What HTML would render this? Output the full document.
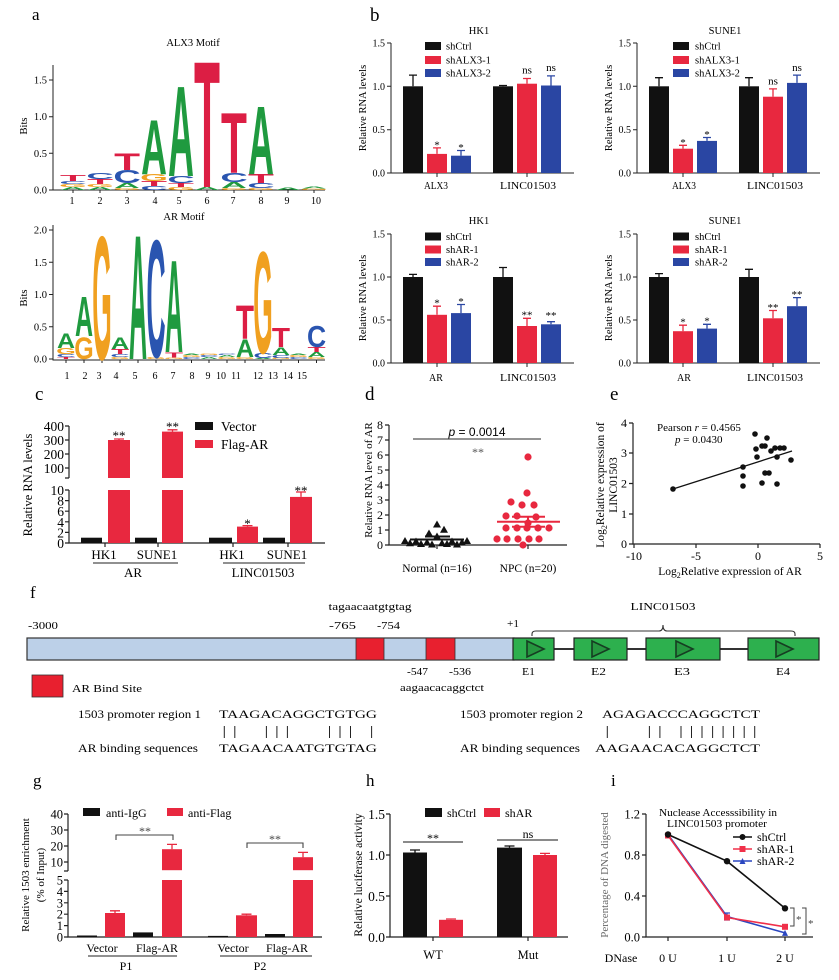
<!DOCTYPE html>
<html><head><meta charset="utf-8"><style>
html,body{margin:0;padding:0;background:#fff;}
svg{display:block;}
text{font-family:"Liberation Serif",serif;}
.lg text{font-family:"Liberation Sans",sans-serif;font-weight:bold;font-size:100px;text-anchor:middle;}
.sans{font-family:"Liberation Sans",sans-serif;}
</style></head><body>
<svg width="839" height="980" viewBox="0 0 839 980" xmlns="http://www.w3.org/2000/svg">
<rect width="839" height="980" fill="#fff"/>

<!-- ============ PANEL A ============ -->
<text x="32" y="20" font-size="17">a</text>
<text x="193" y="46" font-size="10.5" text-anchor="middle">ALX3 Motif</text>
<text transform="translate(27,126) rotate(-90)" font-size="10.5" text-anchor="middle">Bits</text>
<path d="M53,65V190H325" stroke="#222" fill="none"/>
<path d="M49,190H53M49,153.3H53M49,116.7H53M49,80H53M73,190V193M100,190V193M127,190V193M154,190V193M181,190V193M207,190V193M234,190V193M261,190V193M288,190V193M314,190V193" stroke="#222"/>
<g font-size="10.5" text-anchor="end"><text x="47" y="193.5">0.0</text><text x="47" y="156.8">0.5</text><text x="47" y="120.2">1.0</text><text x="47" y="83.5">1.5</text></g>
<g font-size="10" text-anchor="middle"><text x="72" y="204">1</text><text x="100" y="204">2</text><text x="127" y="204">3</text><text x="155" y="204">4</text><text x="179" y="204">5</text><text x="207" y="204">6</text><text x="233" y="204">7</text><text x="261" y="204">8</text><text x="287" y="204">9</text><text x="316" y="204">10</text></g>
<g class="lg">
<text fill="#1f9a3f" transform="translate(73,190) scale(0.357,0.042)">A</text>
<text fill="#f0a020" transform="translate(73,187) scale(0.357,0.042)">G</text>
<text fill="#2a55b0" transform="translate(73,184) scale(0.379,0.042)">C</text>
<text fill="#dc1e44" transform="translate(73,181) scale(0.424,0.083)">T</text>
<text fill="#1f9a3f" transform="translate(100,190) scale(0.357,0.042)">A</text>
<text fill="#f0a020" transform="translate(100,187) scale(0.357,0.042)">G</text>
<text fill="#dc1e44" transform="translate(100,184) scale(0.424,0.069)">T</text>
<text fill="#2a55b0" transform="translate(100,179) scale(0.379,0.083)">C</text>
<text fill="#f0a020" transform="translate(127,190) scale(0.357,0.028)">G</text>
<text fill="#1f9a3f" transform="translate(127,188) scale(0.357,0.069)">A</text>
<text fill="#2a55b0" transform="translate(127,183) scale(0.379,0.181)">C</text>
<text fill="#dc1e44" transform="translate(127,170) scale(0.424,0.236)">T</text>
<text fill="#2a55b0" transform="translate(154,190) scale(0.379,0.056)">C</text>
<text fill="#dc1e44" transform="translate(154,186) scale(0.424,0.069)">T</text>
<text fill="#f0a020" transform="translate(154,181) scale(0.357,0.097)">G</text>
<text fill="#1f9a3f" transform="translate(154,174) scale(0.357,0.778)">A</text>
<text fill="#f0a020" transform="translate(181,190) scale(0.357,0.042)">G</text>
<text fill="#dc1e44" transform="translate(181,187) scale(0.424,0.056)">T</text>
<text fill="#2a55b0" transform="translate(181,183) scale(0.379,0.097)">C</text>
<text fill="#1f9a3f" transform="translate(181,176) scale(0.357,1.292)">A</text>
<text fill="#1f9a3f" transform="translate(207,190) scale(0.357,0.042)">A</text>
<text fill="#dc1e44" transform="translate(207,187) scale(0.424,1.806)">T</text>
<text fill="#f0a020" transform="translate(234,190) scale(0.357,0.028)">G</text>
<text fill="#1f9a3f" transform="translate(234,188) scale(0.357,0.083)">A</text>
<text fill="#2a55b0" transform="translate(234,182) scale(0.379,0.125)">C</text>
<text fill="#dc1e44" transform="translate(234,173) scale(0.424,0.861)">T</text>
<text fill="#f0a020" transform="translate(261,190) scale(0.357,0.028)">G</text>
<text fill="#2a55b0" transform="translate(261,188) scale(0.379,0.069)">C</text>
<text fill="#dc1e44" transform="translate(261,183) scale(0.424,0.125)">T</text>
<text fill="#1f9a3f" transform="translate(261,174) scale(0.357,0.972)">A</text>
<text fill="#1f9a3f" transform="translate(288,190) scale(0.357,0.035)">A</text>
<text fill="#f0a020" transform="translate(314,190) scale(0.357,0.021)">G</text>
<text fill="#1f9a3f" transform="translate(314,188.5) scale(0.357,0.028)">A</text>
</g>

<text x="184" y="220" font-size="10.5" text-anchor="middle">AR Motif</text>
<text transform="translate(27,298) rotate(-90)" font-size="10.5" text-anchor="middle">Bits</text>
<path d="M53,225V360H325" stroke="#222" fill="none"/>
<path d="M49,359H53M49,326.8H53M49,294.5H53M49,262.3H53M49,230H53M66,360V363M84,360V363M102,360V363M120,360V363M138,360V363M156,360V363M174,360V363M191.5,360V363M209,360V363M227,360V363M245,360V363M263,360V363M281,360V363M298.5,360V363M316.5,360V363" stroke="#222"/>
<g font-size="10.5" text-anchor="end"><text x="47" y="362.5">0.0</text><text x="47" y="330.3">0.5</text><text x="47" y="298">1.0</text><text x="47" y="265.8">1.5</text><text x="47" y="233.5">2.0</text></g>
<g font-size="10" text-anchor="middle"><text x="67" y="379">1</text><text x="85" y="379">2</text><text x="99" y="379">3</text><text x="116" y="379">4</text><text x="135" y="379">5</text><text x="155" y="379">6</text><text x="173" y="379">7</text><text x="192" y="379">8</text><text x="208" y="379">9</text><text x="221" y="379">10</text><text x="236" y="379">11</text><text x="258" y="379">12</text><text x="273" y="379">13</text><text x="288" y="379">14</text><text x="302" y="379">15</text></g>
<g class="lg">
<text fill="#dc1e44" transform="translate(66,359) scale(0.297,0.028)">T</text>
<text fill="#2a55b0" transform="translate(66,357) scale(0.265,0.042)">C</text>
<text fill="#f0a020" transform="translate(66,354) scale(0.25,0.083)">G</text>
<text fill="#1f9a3f" transform="translate(66,348) scale(0.25,0.208)">A</text>
<text fill="#f0a020" transform="translate(84,359) scale(0.25,0.319)">G</text>
<text fill="#1f9a3f" transform="translate(84,336) scale(0.25,0.569)">A</text>
<text fill="#f0a020" transform="translate(102,359) scale(0.25,1.764)">G</text>
<text fill="#f0a020" transform="translate(120,359) scale(0.25,0.028)">G</text>
<text fill="#2a55b0" transform="translate(120,357) scale(0.265,0.042)">C</text>
<text fill="#dc1e44" transform="translate(120,354) scale(0.297,0.069)">T</text>
<text fill="#1f9a3f" transform="translate(120,349) scale(0.25,0.167)">A</text>
<text fill="#1f9a3f" transform="translate(138,359) scale(0.25,1.778)">A</text>
<text fill="#f0a020" transform="translate(156,359) scale(0.25,0.028)">G</text>
<text fill="#2a55b0" transform="translate(156,357) scale(0.265,1.681)">C</text>
<text fill="#f0a020" transform="translate(174,359) scale(0.25,0.021)">G</text>
<text fill="#dc1e44" transform="translate(174,357.5) scale(0.297,0.076)">T</text>
<text fill="#1f9a3f" transform="translate(174,352) scale(0.25,1.319)">A</text>
<text fill="#2a55b0" transform="translate(191.5,359) scale(0.265,0.028)">C</text>
<text fill="#f0a020" transform="translate(191.5,357) scale(0.25,0.028)">G</text>
<text fill="#1f9a3f" transform="translate(191.5,355) scale(0.25,0.021)">A</text>
<text fill="#1f9a3f" transform="translate(209,359) scale(0.25,0.028)">A</text>
<text fill="#2a55b0" transform="translate(209,357) scale(0.265,0.028)">C</text>
<text fill="#f0a020" transform="translate(209,355) scale(0.25,0.021)">G</text>
<text fill="#f0a020" transform="translate(227,359) scale(0.25,0.028)">G</text>
<text fill="#1f9a3f" transform="translate(227,357) scale(0.25,0.028)">A</text>
<text fill="#2a55b0" transform="translate(227,355) scale(0.265,0.021)">C</text>
<text fill="#f0a020" transform="translate(245,359) scale(0.25,0.028)">G</text>
<text fill="#1f9a3f" transform="translate(245,357) scale(0.25,0.25)">A</text>
<text fill="#dc1e44" transform="translate(245,339) scale(0.297,0.486)">T</text>
<text fill="#1f9a3f" transform="translate(263,359) scale(0.25,0.014)">A</text>
<text fill="#2a55b0" transform="translate(263,358) scale(0.265,0.069)">C</text>
<text fill="#f0a020" transform="translate(263,353) scale(0.25,1.458)">G</text>
<text fill="#f0a020" transform="translate(281,359) scale(0.25,0.014)">G</text>
<text fill="#2a55b0" transform="translate(281,358) scale(0.265,0.042)">C</text>
<text fill="#1f9a3f" transform="translate(281,355) scale(0.25,0.111)">A</text>
<text fill="#dc1e44" transform="translate(281,347) scale(0.297,0.278)">T</text>
<text fill="#2a55b0" transform="translate(298.5,359) scale(0.265,0.028)">C</text>
<text fill="#f0a020" transform="translate(298.5,357) scale(0.25,0.028)">G</text>
<text fill="#1f9a3f" transform="translate(298.5,355) scale(0.25,0.021)">A</text>
<text fill="#f0a020" transform="translate(316.5,359) scale(0.25,0.028)">G</text>
<text fill="#1f9a3f" transform="translate(316.5,357) scale(0.25,0.069)">A</text>
<text fill="#dc1e44" transform="translate(316.5,352) scale(0.297,0.069)">T</text>
<text fill="#2a55b0" transform="translate(316.5,347) scale(0.265,0.306)">C</text>
</g>

<!-- ============ PANEL B ============ -->
<text x="370" y="21" font-size="19">b</text>

<!-- HK1 top -->
<text x="479" y="34" font-size="10.5" text-anchor="middle">HK1</text>
<path d="M391,43V173H574" stroke="#222" fill="none"/>
<path d="M387,43H391M387,86.3H391M387,129.7H391M387,173H391M437,173V177M527,173V177" stroke="#222"/>
<g font-size="10" text-anchor="end"><text x="385" y="46.5">1.5</text><text x="385" y="89.8">1.0</text><text x="385" y="133.2">0.5</text><text x="385" y="176.5">0.0</text></g>
<text transform="translate(366,108) rotate(-90)" font-size="10.5" text-anchor="middle">Relative RNA levels</text>
<rect x="425" y="42" width="16" height="8" fill="#111"/><text x="446" y="49.5" font-size="10.5">shCtrl</text>
<rect x="425" y="56" width="16" height="8" fill="#e8283f"/><text x="446" y="63.5" font-size="10.5">shALX3-1</text>
<rect x="425" y="69" width="16" height="8" fill="#2a46a3"/><text x="446" y="76.5" font-size="10.5">shALX3-2</text>
<rect x="403" y="86.3" width="20" height="86.7" fill="#111"/>
<rect x="427" y="153.9" width="20" height="19.1" fill="#e8283f"/>
<rect x="451" y="155.7" width="20" height="17.3" fill="#2a46a3"/>
<rect x="493" y="86.3" width="20" height="86.7" fill="#111"/>
<rect x="517" y="83.7" width="20" height="89.3" fill="#e8283f"/>
<rect x="541" y="85.5" width="20" height="87.5" fill="#2a46a3"/>
<path d="M413,86.3V75.1M409,75.1H417M503,86.3V85.5M499,85.5H507" stroke="#111" stroke-width="1.3"/>
<path d="M437,153.9V147.9M433,147.9H441M527,83.7V78.5M523,78.5H531" stroke="#e8283f" stroke-width="1.3"/>
<path d="M461,155.7V150.5M457,150.5H465M551,85.5V75.9M547,75.9H555" stroke="#2a46a3" stroke-width="1.3"/>
<g font-size="11" text-anchor="middle"><text x="437" y="148.5">*</text><text x="461" y="151">*</text><text x="527" y="73.5">ns</text><text x="551" y="71">ns</text></g>
<text x="436" y="189" font-size="10" text-anchor="middle" textLength="24" lengthAdjust="spacingAndGlyphs">ALX3</text>
<text x="528" y="189" font-size="10" text-anchor="middle" textLength="56" lengthAdjust="spacingAndGlyphs">LINC01503</text>

<!-- SUNE1 top -->
<text x="725" y="34" font-size="10.5" text-anchor="middle">SUNE1</text>
<path d="M637,43V173H820" stroke="#222" fill="none"/>
<path d="M633,43H637M633,86.3H637M633,129.7H637M633,173H637M683,173V177M773,173V177" stroke="#222"/>
<g font-size="10" text-anchor="end"><text x="631" y="46.5">1.5</text><text x="631" y="89.8">1.0</text><text x="631" y="133.2">0.5</text><text x="631" y="176.5">0.0</text></g>
<text transform="translate(612,108) rotate(-90)" font-size="10.5" text-anchor="middle">Relative RNA levels</text>
<rect x="673" y="42" width="16" height="8" fill="#111"/><text x="695" y="49.5" font-size="10.5">shCtrl</text>
<rect x="673" y="56" width="16" height="8" fill="#e8283f"/><text x="695" y="63.5" font-size="10.5">shALX3-1</text>
<rect x="673" y="69" width="16" height="8" fill="#2a46a3"/><text x="695" y="76.5" font-size="10.5">shALX3-2</text>
<rect x="649" y="86.3" width="20" height="86.7" fill="#111"/>
<rect x="673" y="148.7" width="20" height="24.3" fill="#e8283f"/>
<rect x="697" y="140.9" width="20" height="32.1" fill="#2a46a3"/>
<rect x="739" y="86.3" width="20" height="86.7" fill="#111"/>
<rect x="763" y="96.7" width="20" height="76.3" fill="#e8283f"/>
<rect x="787" y="82.9" width="20" height="90.1" fill="#2a46a3"/>
<path d="M659,86.3V77.7M655,77.7H663M749,86.3V77.7M745,77.7H753" stroke="#111" stroke-width="1.3"/>
<path d="M683,148.7V145.3M679,145.3H687M773,96.7V88.9M769,88.9H777" stroke="#e8283f" stroke-width="1.3"/>
<path d="M707,140.9V137.5M703,137.5H711M797,82.9V75.1M793,75.1H801" stroke="#2a46a3" stroke-width="1.3"/>
<g font-size="11" text-anchor="middle"><text x="683" y="146">*</text><text x="707" y="138">*</text><text x="773" y="84.5">ns</text><text x="797" y="71">ns</text></g>
<text x="684" y="189" font-size="10" text-anchor="middle" textLength="24" lengthAdjust="spacingAndGlyphs">ALX3</text>
<text x="775" y="189" font-size="10" text-anchor="middle" textLength="56" lengthAdjust="spacingAndGlyphs">LINC01503</text>

<!-- HK1 bottom -->
<text x="479" y="224" font-size="10.5" text-anchor="middle">HK1</text>
<path d="M391,234V363H574" stroke="#222" fill="none"/>
<path d="M387,234H391M387,277H391M387,320H391M387,363H391M437,363V367M527,363V367" stroke="#222"/>
<g font-size="10" text-anchor="end"><text x="385" y="237.5">1.5</text><text x="385" y="280.5">1.0</text><text x="385" y="323.5">0.5</text><text x="385" y="366.5">0.0</text></g>
<text transform="translate(366,298) rotate(-90)" font-size="10.5" text-anchor="middle">Relative RNA levels</text>
<rect x="425" y="232.5" width="16" height="8" fill="#111"/><text x="446" y="240" font-size="10.5">shCtrl</text>
<rect x="425" y="245.5" width="16" height="8" fill="#e8283f"/><text x="446" y="253" font-size="10.5">shAR-1</text>
<rect x="425" y="258" width="16" height="8" fill="#2a46a3"/><text x="446" y="265.5" font-size="10.5">shAR-2</text>
<rect x="403" y="277" width="20" height="86" fill="#111"/>
<rect x="427" y="314.8" width="20" height="48.2" fill="#e8283f"/>
<rect x="451" y="313.1" width="20" height="49.9" fill="#2a46a3"/>
<rect x="493" y="277" width="20" height="86" fill="#111"/>
<rect x="517" y="326" width="20" height="37" fill="#e8283f"/>
<rect x="541" y="324.3" width="20" height="38.7" fill="#2a46a3"/>
<path d="M413,277V274.4M409,274.4H417M503,277V267.5M499,267.5H507" stroke="#111" stroke-width="1.3"/>
<path d="M437,314.8V306.2M433,306.2H441M527,326V318.3M523,318.3H531" stroke="#e8283f" stroke-width="1.3"/>
<path d="M461,313.1V304.5M457,304.5H465M551,324.3V321.7M547,321.7H555" stroke="#2a46a3" stroke-width="1.3"/>
<g font-size="11" text-anchor="middle"><text x="437" y="306.5">*</text><text x="461" y="305">*</text><text x="527" y="318.5">**</text><text x="551" y="319">**</text></g>
<text x="436" y="381" font-size="10" text-anchor="middle">AR</text>
<text x="528" y="381" font-size="10" text-anchor="middle" textLength="56" lengthAdjust="spacingAndGlyphs">LINC01503</text>

<!-- SUNE1 bottom -->
<text x="725" y="224" font-size="10.5" text-anchor="middle">SUNE1</text>
<path d="M637,234V363H820" stroke="#222" fill="none"/>
<path d="M633,234H637M633,277H637M633,320H637M633,363H637M683,363V367M773,363V367" stroke="#222"/>
<g font-size="10" text-anchor="end"><text x="631" y="237.5">1.5</text><text x="631" y="280.5">1.0</text><text x="631" y="323.5">0.5</text><text x="631" y="366.5">0.0</text></g>
<text transform="translate(612,298) rotate(-90)" font-size="10.5" text-anchor="middle">Relative RNA levels</text>
<rect x="673" y="232.5" width="16" height="8" fill="#111"/><text x="695" y="240" font-size="10.5">shCtrl</text>
<rect x="673" y="245.5" width="16" height="8" fill="#e8283f"/><text x="695" y="253" font-size="10.5">shAR-1</text>
<rect x="673" y="258" width="16" height="8" fill="#2a46a3"/><text x="695" y="265.5" font-size="10.5">shAR-2</text>
<rect x="649" y="277" width="20" height="86" fill="#111"/>
<rect x="673" y="331.2" width="20" height="31.8" fill="#e8283f"/>
<rect x="697" y="328.6" width="20" height="34.4" fill="#2a46a3"/>
<rect x="739" y="277" width="20" height="86" fill="#111"/>
<rect x="763" y="318.3" width="20" height="44.7" fill="#e8283f"/>
<rect x="787" y="306.2" width="20" height="56.8" fill="#2a46a3"/>
<path d="M659,277V273.6M655,273.6H663M749,277V269.3M745,269.3H753" stroke="#111" stroke-width="1.3"/>
<path d="M683,331.2V325.2M679,325.2H687M773,318.3V310.5M769,310.5H777" stroke="#e8283f" stroke-width="1.3"/>
<path d="M707,328.6V324.3M703,324.3H711M797,306.2V297.6M793,297.6H801" stroke="#2a46a3" stroke-width="1.3"/>
<g font-size="11" text-anchor="middle"><text x="683" y="325.5">*</text><text x="707" y="324.5">*</text><text x="773" y="311">**</text><text x="797" y="298">**</text></g>
<text x="684" y="381" font-size="10" text-anchor="middle">AR</text>
<text x="775" y="381" font-size="10" text-anchor="middle" textLength="56" lengthAdjust="spacingAndGlyphs">LINC01503</text>

<!-- ============ PANEL C ============ -->
<text x="35" y="400" font-size="19">c</text>
<path d="M69,426V478M69,490V543H325" stroke="#222" fill="none" stroke-width="1.2"/>
<path d="M65,426H69M65,440H69M65,454H69M65,468H69M65,478H69M65,490H69M65,500.6H69M65,511.2H69M65,521.8H69M65,532.4H69M65,543H69M105,543V547M158,543V547M233,543V547M288,543V547" stroke="#222" stroke-width="1.2"/>
<g font-size="13.5" text-anchor="end"><text x="64" y="431">400</text><text x="64" y="445">300</text><text x="64" y="459">200</text><text x="64" y="473">100</text><text x="64" y="495">10</text><text x="64" y="505.6">8</text><text x="64" y="516.2">6</text><text x="64" y="526.8">4</text><text x="64" y="537.4">2</text><text x="64" y="548">0</text></g>
<text transform="translate(32,485) rotate(-90)" font-size="12.5" text-anchor="middle">Relative RNA levels</text>
<rect x="195" y="422" width="18" height="8" fill="#111"/><text x="221" y="431" font-size="13.5">Vector</text>
<rect x="195" y="440" width="18" height="8" fill="#e8283f"/><text x="221" y="449" font-size="13.5">Flag-AR</text>
<rect x="81" y="537.7" width="21" height="5.3" fill="#111"/>
<rect x="108" y="490" width="22" height="53" fill="#e8283f"/>
<rect x="108" y="440" width="22" height="38" fill="#e8283f"/>
<rect x="135" y="537.7" width="22" height="5.3" fill="#111"/>
<rect x="162" y="490" width="21" height="53" fill="#e8283f"/>
<rect x="162" y="431.6" width="21" height="46.4" fill="#e8283f"/>
<rect x="209" y="537.7" width="23" height="5.3" fill="#111"/>
<rect x="237" y="526.6" width="21" height="16.4" fill="#e8283f"/>
<rect x="263" y="537.7" width="22" height="5.3" fill="#111"/>
<rect x="290" y="496.9" width="22" height="46.1" fill="#e8283f"/>
<path d="M119,440V439M114,439H124M172.5,431.6V429.8M167.5,429.8H177.5M247.5,526.6V525.6M242.5,525.6H252.5M301,496.9V492M296,492H306" stroke="#e8283f" stroke-width="1.3"/>
<g font-size="13" text-anchor="middle"><text x="119" y="440">**</text><text x="172.5" y="431">**</text><text x="247.5" y="528">*</text><text x="301" y="495">**</text></g>
<g font-size="13" text-anchor="middle"><text x="104" y="559">HK1</text><text x="157" y="559">SUNE1</text><text x="133" y="577">AR</text><text x="232" y="559">HK1</text><text x="287" y="559">SUNE1</text><text x="263" y="577">LINC01503</text></g>
<path d="M93,563H178M223,563H305" stroke="#222"/>

<!-- ============ PANEL D ============ -->
<text x="365" y="400" font-size="19">d</text>
<path d="M389,425V545H567" stroke="#222" fill="none" stroke-width="1.2"/>
<path d="M385,425H389M385,440H389M385,455H389M385,470H389M385,485H389M385,500H389M385,515H389M385,530H389M385,545H389M437,545V549M528,545V549" stroke="#222" stroke-width="1.2"/>
<g font-size="12" text-anchor="end"><text x="383" y="429">8</text><text x="383" y="444">7</text><text x="383" y="459">6</text><text x="383" y="474">5</text><text x="383" y="489">4</text><text x="383" y="504">3</text><text x="383" y="519">2</text><text x="383" y="534">1</text><text x="383" y="549">0</text></g>
<text transform="translate(372,480) rotate(-90)" font-size="11" text-anchor="middle">Relative RNA level of AR</text>
<path d="M413,439H541" stroke="#555" stroke-width="1.2"/>
<text x="477" y="436" font-size="12" text-anchor="middle" class="sans"><tspan font-style="italic">p</tspan> = 0.0014</text>
<text x="478" y="456" font-size="12" text-anchor="middle" fill="#555">**</text>
<g fill="#111">
<polygon points="433,527.5 441,527.5 437,520.5"/><polygon points="440,532.8 448,532.8 444,525.8"/><polygon points="425,536.5 433,536.5 429,529.5"/><polygon points="433,539.5 441,539.5 437,532.5"/>
<polygon points="401,544 409,544 405,537"/><polygon points="406,546.3 414,546.3 410,539.3"/><polygon points="412,544.5 420,544.5 416,537.5"/><polygon points="417,547 425,547 421,540"/>
<polygon points="423,545.5 431,545.5 427,538.5"/><polygon points="428,547.5 436,547.5 432,540.5"/><polygon points="438,546.3 446,546.3 442,539.3"/><polygon points="443,547 451,547 447,540"/>
<polygon points="448,544.5 456,544.5 452,537.5"/><polygon points="453,547.5 461,547.5 457,540.5"/><polygon points="458,545.5 466,545.5 462,538.5"/><polygon points="463,544 471,544 467,537"/>
</g>
<path d="M410,539.5H464M425,536.5H450" stroke="#111" stroke-width="2"/>
<g fill="#e8283f">
<circle cx="528" cy="457" r="3.6"/><circle cx="527" cy="493" r="3.6"/><circle cx="511" cy="502" r="3.6"/><circle cx="522" cy="505" r="3.6"/><circle cx="534" cy="505" r="3.6"/>
<circle cx="506" cy="516" r="3.6"/><circle cx="517" cy="516" r="3.6"/><circle cx="536" cy="517" r="3.6"/><circle cx="528" cy="523" r="3.6"/><circle cx="506" cy="528" r="3.6"/>
<circle cx="517" cy="528" r="3.6"/><circle cx="527" cy="528" r="3.6"/><circle cx="538" cy="528" r="3.6"/><circle cx="549" cy="528" r="3.6"/><circle cx="497" cy="539" r="3.6"/>
<circle cx="507" cy="539" r="3.6"/><circle cx="518" cy="539" r="3.6"/><circle cx="529" cy="539" r="3.6"/><circle cx="539" cy="539" r="3.6"/><circle cx="523" cy="545" r="3.6"/>
</g>
<path d="M497,521.8H560M512,516.8H545M512,526.7H545M528,516.8V526.7" stroke="#e8283f" stroke-width="2"/>
<text x="437" y="572" font-size="11.5" text-anchor="middle">Normal (n=16)</text>
<text x="528" y="572" font-size="11.5" text-anchor="middle">NPC (n=20)</text>

<!-- ============ PANEL E ============ -->
<text x="610" y="400" font-size="19">e</text>
<path d="M633,423V544H820" stroke="#222" fill="none" stroke-width="1.2"/>
<path d="M629,423H633M629,453H633M629,483.5H633M629,514H633M629,544H633M634,544V548M696,544V548M758,544V548M820,544V548" stroke="#222" stroke-width="1.2"/>
<g font-size="12" text-anchor="end"><text x="627" y="427">4</text><text x="627" y="457">3</text><text x="627" y="487.5">2</text><text x="627" y="518">1</text><text x="627" y="548">0</text></g>
<g font-size="12" text-anchor="middle"><text x="634" y="560">-10</text><text x="696" y="560">-5</text><text x="758" y="560">0</text><text x="820" y="560">5</text></g>
<text transform="translate(604,485) rotate(-90)" font-size="11.5" text-anchor="middle">Log<tspan dy="3" font-size="8">2</tspan><tspan dy="-3">Relative expression of</tspan></text>
<text transform="translate(617,485) rotate(-90)" font-size="11.5" text-anchor="middle">LINC01503</text>
<text x="730" y="575" font-size="11.5" text-anchor="middle">Log<tspan dy="3" font-size="8">2</tspan><tspan dy="-3">Relative expression of AR</tspan></text>
<text x="657" y="431" font-size="11">Pearson <tspan font-style="italic">r</tspan> = 0.4565</text>
<text x="675" y="443" font-size="11"><tspan font-style="italic">p</tspan> = 0.0430</text>
<path d="M673,489L792,451" stroke="#111" stroke-width="1.3"/>
<g fill="#111">
<circle cx="673" cy="489" r="2.8"/><circle cx="743" cy="467" r="2.8"/><circle cx="743" cy="476" r="2.8"/><circle cx="743" cy="486" r="2.8"/><circle cx="755" cy="434" r="2.8"/>
<circle cx="756" cy="449" r="2.8"/><circle cx="757" cy="457" r="2.8"/><circle cx="762" cy="446" r="2.8"/><circle cx="765" cy="446" r="2.8"/><circle cx="762" cy="483" r="2.8"/>
<circle cx="767" cy="438" r="2.8"/><circle cx="765" cy="473" r="2.8"/><circle cx="769" cy="473" r="2.8"/><circle cx="771" cy="451" r="2.8"/><circle cx="775" cy="448" r="2.8"/>
<circle cx="777" cy="457" r="2.8"/><circle cx="780" cy="448" r="2.8"/><circle cx="784" cy="448" r="2.8"/><circle cx="777" cy="484" r="2.8"/><circle cx="791" cy="460" r="2.8"/>
</g>

<!-- ============ PANEL F ============ -->
<text x="30" y="598" font-size="17">f</text>
<text x="370" y="610" font-size="11" text-anchor="middle" textLength="83" lengthAdjust="spacingAndGlyphs">tagaacaatgtgtag</text>
<text x="28" y="629" font-size="11" textLength="30" lengthAdjust="spacingAndGlyphs">-3000</text>
<text x="329" y="629" font-size="11" textLength="27" lengthAdjust="spacingAndGlyphs">-765</text>
<text x="377" y="629" font-size="11" textLength="23" lengthAdjust="spacingAndGlyphs">-754</text>
<text x="507" y="627" font-size="11" textLength="12" lengthAdjust="spacingAndGlyphs">+1</text>
<text x="663" y="610" font-size="11" text-anchor="middle" textLength="65" lengthAdjust="spacingAndGlyphs">LINC01503</text>
<path d="M532,636V634Q532,631 536,631H659Q663,631 663,625Q663,631 667,631H791Q795,631 795,634V636" stroke="#333" fill="none" stroke-width="1.1"/>
<rect x="27" y="638" width="487" height="22" fill="#bcd0e8" stroke="#333" stroke-width="1.2"/>
<rect x="356" y="638" width="28" height="22" fill="#e8202f" stroke="#333" stroke-width="0.8"/>
<rect x="426" y="638" width="29" height="22" fill="#e8202f" stroke="#333" stroke-width="0.8"/>
<path d="M554,649H574M627,649H646M720,649H748" stroke="#333" stroke-width="2"/>
<g fill="#2db04e" stroke="#222" stroke-width="1.2">
<rect x="513" y="638" width="41" height="22"/><rect x="574" y="638" width="53" height="22"/><rect x="646" y="638" width="74" height="22"/><rect x="748" y="638" width="71" height="22"/>
</g>
<g fill="#26963f" stroke="#163d22" stroke-width="1.6">
<polygon points="527,641 544,649 527,657"/><polygon points="592,641 609,649 592,657"/><polygon points="676,641 693,649 676,657"/><polygon points="776,641 793,649 776,657"/>
</g>
<g font-size="11">
<text x="407" y="675" textLength="21" lengthAdjust="spacingAndGlyphs">-547</text>
<text x="449" y="675" textLength="22" lengthAdjust="spacingAndGlyphs">-536</text>
<text x="522" y="675" textLength="13" lengthAdjust="spacingAndGlyphs">E1</text>
<text x="591" y="675" textLength="15" lengthAdjust="spacingAndGlyphs">E2</text>
<text x="674" y="675" textLength="16" lengthAdjust="spacingAndGlyphs">E3</text>
<text x="776" y="675" textLength="14" lengthAdjust="spacingAndGlyphs">E4</text>
<text x="400" y="691" textLength="84" lengthAdjust="spacingAndGlyphs">aagaacacaggctct</text>
<text x="72" y="692" textLength="70" lengthAdjust="spacingAndGlyphs">AR Bind Site</text>
</g>
<rect x="32" y="675" width="31" height="22" fill="#e8202f" stroke="#333" stroke-width="0.8"/>
<g font-size="12">
<text x="78" y="718" textLength="123" lengthAdjust="spacingAndGlyphs">1503 promoter region 1</text>
<text x="78" y="752" textLength="120" lengthAdjust="spacingAndGlyphs">AR binding sequences</text>
<text x="460" y="718" textLength="123" lengthAdjust="spacingAndGlyphs">1503 promoter region 2</text>
<text x="460" y="752" textLength="120" lengthAdjust="spacingAndGlyphs">AR binding sequences</text>
<text x="219" y="718" textLength="158" lengthAdjust="spacingAndGlyphs">TAAGACAGGCTGTGG</text>
<text x="219" y="752" textLength="158" lengthAdjust="spacingAndGlyphs">TAGAACAATGTGTAG</text>
<text x="602" y="718" textLength="158" lengthAdjust="spacingAndGlyphs">AGAGACCCAGGCTCT</text>
<text x="595" y="752" textLength="165" lengthAdjust="spacingAndGlyphs">AAGAACACAGGCTCT</text>
</g>
<path d="M224.3,726V738M234.8,726V738M266.4,726V738M276.9,726V738M287.4,726V738M329.5,726V738M340,726V738M350.5,726V738M371.6,726V738M607.3,726V738M649.4,726V738M659.9,726V738M681,726V738M691.5,726V738M702,726V738M712.6,726V738M723.1,726V738M733.6,726V738M744.2,726V738M754.7,726V738" stroke="#222" stroke-width="1"/>

<!-- ============ PANEL G ============ -->
<text x="33" y="786" font-size="17">g</text>
<path d="M68,814V871M68,880V937H322" stroke="#222" fill="none" stroke-width="1.2"/>
<path d="M64,814H68M64,830H68M64,846H68M64,862H68M64,871H68M64,880H68M64,891.4H68M64,902.8H68M64,914.2H68M64,925.6H68M64,937H68" stroke="#222" stroke-width="1.2"/>
<g font-size="12.5" text-anchor="end"><text x="63" y="818.5">40</text><text x="63" y="834.5">30</text><text x="63" y="850.5">20</text><text x="63" y="866.5">10</text><text x="63" y="884.5">5</text><text x="63" y="895.9">4</text><text x="63" y="907.3">3</text><text x="63" y="918.7">2</text><text x="63" y="930.1">1</text><text x="63" y="941.5">0</text></g>
<text transform="translate(29,875) rotate(-90)" font-size="11" text-anchor="middle">Relative 1503 enrichment</text>
<text transform="translate(44,875) rotate(-90)" font-size="11" text-anchor="middle">(% of Input)</text>
<rect x="83" y="808" width="17" height="8" fill="#111"/><text x="106" y="817" font-size="12">anti-IgG</text>
<rect x="167" y="808" width="16" height="8" fill="#e8283f"/><text x="188" y="817" font-size="12">anti-Flag</text>
<rect x="77" y="935.5" width="20" height="1.5" fill="#111"/>
<rect x="105" y="913" width="20" height="24" fill="#e8283f"/>
<rect x="133" y="932.4" width="20" height="4.6" fill="#111"/>
<rect x="162" y="880" width="20" height="57" fill="#e8283f"/>
<rect x="162" y="849.2" width="20" height="21" fill="#e8283f"/>
<rect x="208" y="935.9" width="20" height="1.1" fill="#111"/>
<rect x="236" y="915.3" width="21" height="21.7" fill="#e8283f"/>
<rect x="265" y="934" width="20" height="3" fill="#111"/>
<rect x="293" y="880" width="20" height="57" fill="#e8283f"/>
<rect x="293" y="857.2" width="20" height="13" fill="#e8283f"/>
<path d="M115,913V910.8M110,910.8H120M172,849.2V844.4M167,844.4H177M246.5,915.3V914.2M241.5,914.2H251.5M303,857.2V852.4M298,852.4H308" stroke="#e8283f" stroke-width="1.3"/>
<path d="M116,840V835H173V840M247,848V843H303V848" stroke="#444" fill="none" stroke-width="1.1"/>
<g font-size="12" text-anchor="middle" fill="#444"><text x="145" y="835">**</text><text x="275" y="843">**</text></g>
<g font-size="12" text-anchor="middle"><text x="102" y="952">Vector</text><text x="157" y="952">Flag-AR</text><text x="126" y="970">P1</text><text x="233" y="952">Vector</text><text x="287" y="952">Flag-AR</text><text x="260" y="970">P2</text></g>
<path d="M88,956H177M220,956H312" stroke="#222"/>

<!-- ============ PANEL H ============ -->
<text x="366" y="786" font-size="17">h</text>
<path d="M390,814V937H568" stroke="#222" fill="none" stroke-width="1.2"/>
<path d="M386,814H390M386,855H390M386,896H390M386,937H390M433,937V941M528,937V941" stroke="#222" stroke-width="1.2"/>
<g font-size="13.5" text-anchor="end"><text x="385" y="819">1.5</text><text x="385" y="860">1.0</text><text x="385" y="901">0.5</text><text x="385" y="942">0.0</text></g>
<text transform="translate(362,875) rotate(-90)" font-size="11.5" text-anchor="middle">Relative luciferase activity</text>
<rect x="425" y="808" width="17" height="9" fill="#111"/><text x="447" y="817" font-size="12">shCtrl</text>
<rect x="484" y="808" width="16" height="9" fill="#e8283f"/><text x="505" y="817" font-size="12">shAR</text>
<rect x="403" y="852.5" width="24" height="84.5" fill="#111"/>
<rect x="439" y="919.8" width="24" height="17.2" fill="#e8283f"/>
<rect x="497" y="847.6" width="25" height="89.4" fill="#111"/>
<rect x="533" y="855" width="24" height="82" fill="#e8283f"/>
<path d="M415,852.5V850M410,850H420M509.5,847.6V846M504.5,846H514.5" stroke="#111" stroke-width="1.3"/>
<path d="M451,919.8V919M446,919H456M545,855V853.4M540,853.4H550" stroke="#e8283f" stroke-width="1.3"/>
<path d="M403,842H463M497,840H558" stroke="#444" stroke-width="1.2"/>
<text x="433" y="842" font-size="12" text-anchor="middle">**</text>
<text x="528" y="838" font-size="12" text-anchor="middle">ns</text>
<text x="433" y="959" font-size="12.5" text-anchor="middle">WT</text>
<text x="528" y="959" font-size="12.5" text-anchor="middle">Mut</text>

<!-- ============ PANEL I ============ -->
<text x="611" y="786" font-size="17">i</text>
<path d="M646,814V937H813" stroke="#222" fill="none" stroke-width="1.2"/>
<path d="M642,814H646M642,855H646M642,896H646M642,937H646M668,937V941M727,937V941M785,937V941" stroke="#222" stroke-width="1.2"/>
<g font-size="12.5" text-anchor="end"><text x="640" y="818.5">1.2</text><text x="640" y="859.5">0.8</text><text x="640" y="900.5">0.4</text><text x="640" y="941.5">0.0</text></g>
<text transform="translate(608,875) rotate(-90)" font-size="11" text-anchor="middle" fill="#666">Percentage of DNA digested</text>
<text x="718" y="816" font-size="10.5" text-anchor="middle" textLength="118" lengthAdjust="spacingAndGlyphs">Nuclease Accesssibility  in</text>
<text x="717" y="827" font-size="10.5" text-anchor="middle" textLength="100" lengthAdjust="spacingAndGlyphs">LINC01503 promoter</text>
<polyline points="668,834.5 727,916.5 785,932.9" fill="none" stroke="#2a46c0" stroke-width="1.6"/>
<polyline points="668,835.5 727,917.5 785,926.8" fill="none" stroke="#f0304a" stroke-width="1.6"/>
<polyline points="668,834.5 727,861.2 785,908.3" fill="none" stroke="#111" stroke-width="1.6"/>
<path d="M727,913V920M724,913H730M724,920H730" stroke="#2a46c0" stroke-width="1.2"/>
<g fill="#2a46c0"><polygon points="724,919.5 730,919.5 727,913.5"/><polygon points="782,935.9 788,935.9 785,929.9"/></g>
<g fill="#f0304a"><rect x="724" y="914.5" width="6" height="6"/><rect x="782" y="923.8" width="6" height="6"/><rect x="665" y="832.5" width="6" height="6"/></g>
<g fill="#111"><circle cx="668" cy="834.5" r="3.2"/><circle cx="727" cy="861.2" r="3.2"/><circle cx="785" cy="908.3" r="3.2"/></g>
<path d="M733,837H752" stroke="#111" stroke-width="1.6"/><circle cx="742.5" cy="837" r="3" fill="#111"/>
<path d="M733,849H752" stroke="#f0304a" stroke-width="1.6"/><rect x="739.5" y="846" width="6" height="6" fill="#f0304a"/>
<path d="M733,861H752" stroke="#2a46c0" stroke-width="1.6"/><polygon points="739.5,864 745.5,864 742.5,858" fill="#2a46c0"/>
<g font-size="12"><text x="757" y="841">shCtrl</text><text x="757" y="853">shAR-1</text><text x="757" y="865">shAR-2</text></g>
<path d="M790,908H794V926H790M802,908H806V934H802" stroke="#444" fill="none" stroke-width="1"/>
<g font-size="11" fill="#444"><text x="796" y="923">*</text><text x="808" y="927">*</text></g>
<g font-size="12" text-anchor="middle"><text x="621" y="962">DNase</text><text x="668" y="962">0 U</text><text x="727" y="962">1 U</text><text x="785" y="962">2 U</text></g>

</svg>
</body></html>
